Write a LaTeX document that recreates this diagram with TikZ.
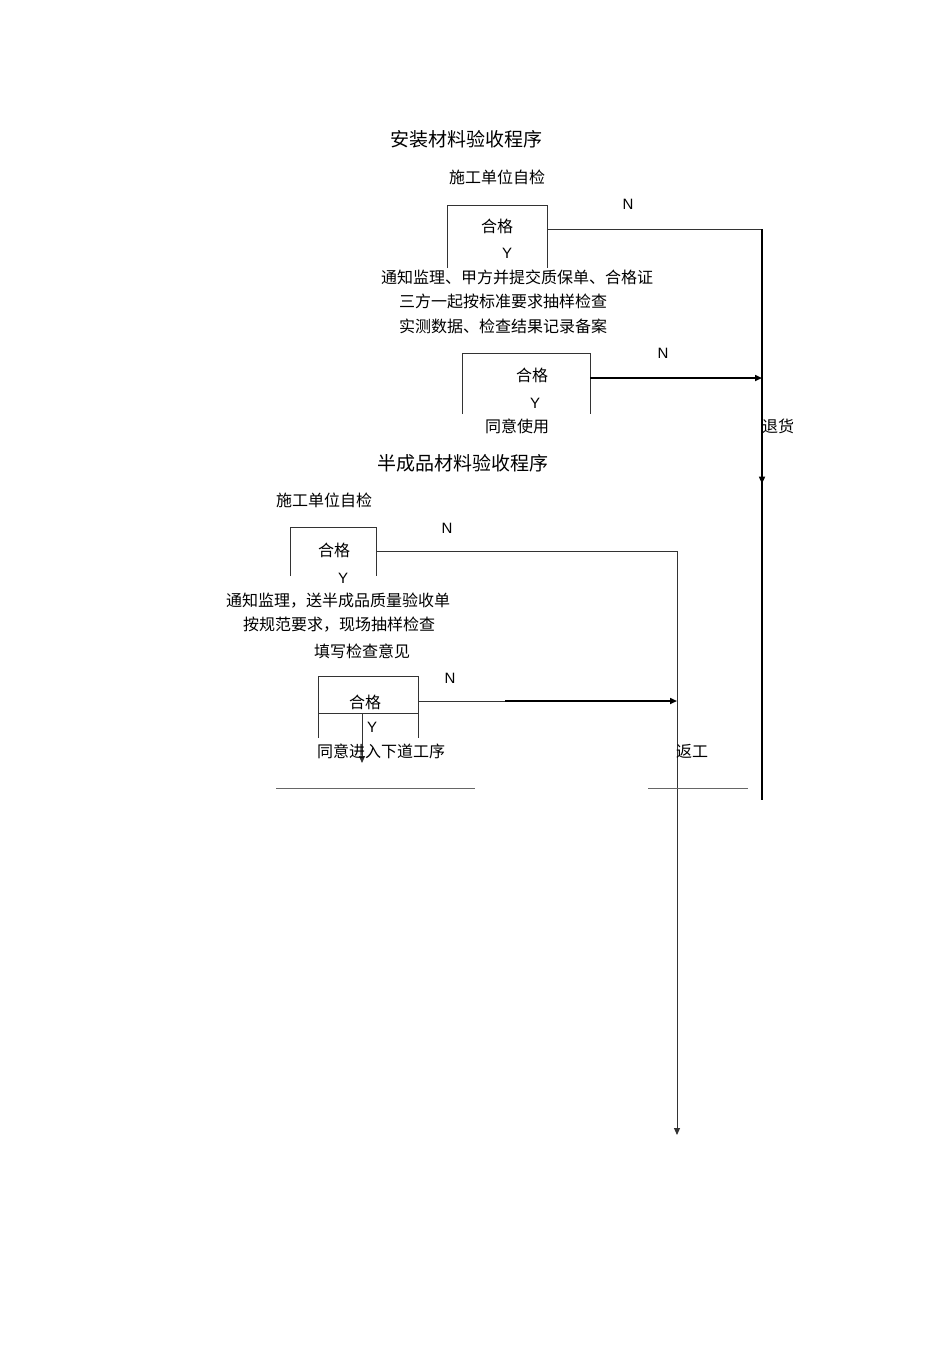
\documentclass[tikz,border=0pt]{standalone}
\usepackage{fontspec}
\setmainfont{Liberation Sans}
\newfontfamily\cjk{Noto Sans CJK SC}
\usetikzlibrary{arrows.meta,decorations.markings}
\tikzset{
 ln/.style={line width=1pt,draw=black!80},
 thk/.style={line width=1.6pt},
 zh/.style={font=\cjk\fontsize{16}{18}\selectfont,inner sep=0pt},
 ttl/.style={font=\cjk\fontsize{19}{21}\selectfont,inner sep=0pt},
 lt/.style={font=\fontsize{15}{17}\selectfont,inner sep=0pt},
 tip/.style={-{Triangle[length=7pt,width=6pt]}}
}
\begin{document}
\begin{tikzpicture}[x=1pt,y=-1pt]
\useasboundingbox (0,0) rectangle (950,1345);
% section 1
\node[ttl] (t1) at (466,139) {安装材料验收程序};
\node[zh] (s1) at (497,177) {施工单位自检};
\draw[ln] (447,268) -- (447,205) -- (547,205) -- (547,268);
\node[zh] (h1) at (497,226) {合格};
\node[lt] (y1) at (507,253) {Y};
\node[lt] (n1) at (628,204) {N};
\coordinate (r1a) at (547,229);
\coordinate (r1b) at (762,229);
\coordinate (r1c) at (762,800);
\draw[ln] (r1a) -- (r1b);
\draw[thk,postaction={decorate},decoration={markings,mark=at position 0.446 with {\arrow{Triangle[length=7pt,width=6pt]}}}] (r1b) -- (r1c);
\node[zh] (a1) at (517,277) {通知监理、甲方并提交质保单、合格证};
\node[zh] (a2) at (503,301) {三方一起按标准要求抽样检查};
\node[zh] (a3) at (503,326) {实测数据、检查结果记录备案};
\draw[ln] (462,414) -- (462,353) -- (590,353) -- (590,414);
\node[zh] (h2) at (532,375) {合格};
\node[lt] (y2) at (535,403) {Y};
\node[lt] (n2) at (663,353) {N};
\coordinate (q2a) at (590,378);
\coordinate (q2b) at (762,378);
\draw[thk,tip] (q2a) -- (q2b);
\node[zh] (u1) at (517,426) {同意使用};
\node[zh] (rt) at (778,426) {退货};
% section 2
\node[ttl] (t2) at (463,463) {半成品材料验收程序};
\node[zh] (s2) at (324,500) {施工单位自检};
\draw[ln] (290,576) -- (290,527) -- (376,527) -- (376,576);
\node[zh] (h3) at (334,550) {合格};
\node[lt] (y3) at (343,578) {Y};
\node[lt] (n3) at (447,528) {N};
\coordinate (p3a) at (376,551);
\coordinate (p3b) at (677,551);
\coordinate (p3c) at (677,1135);
\draw[ln,tip] (p3a) -- (p3b) -- (p3c);
\node[zh] (b1) at (338,601) {通知监理，送半成品质量验收单};
\node[zh] (b2) at (339,625) {按规范要求，现场抽样检查};
\node[zh] (b3) at (362,651) {填写检查意见};
\draw[ln] (318,738) -- (318,676) -- (418,676) -- (418,738);
\draw[ln] (318,713) -- (418,713);
\node[zh] (h4) at (365,702) {合格};
\node[lt] (y4) at (372,727) {Y};
\node[lt] (n4) at (450,678) {N};
\coordinate (d4a) at (362,713);
\coordinate (d4b) at (362,763);
\draw[ln,tip] (d4a) -- (d4b);
\coordinate (m4a) at (418,701);
\coordinate (m4m) at (505,701);
\coordinate (m4b) at (677,701);
\draw[ln] (m4a) -- (m4m);
\draw[thk,tip] (m4m) -- (m4b);
\node[zh] (g1) at (381,751) {同意进入下道工序};
\node[zh] (fg) at (692,751) {返工};
\draw[ln,black!60] (276,788) -- (475,788);
\draw[ln,black!60] (648,788) -- (748,788);
\end{tikzpicture}
\end{document}
